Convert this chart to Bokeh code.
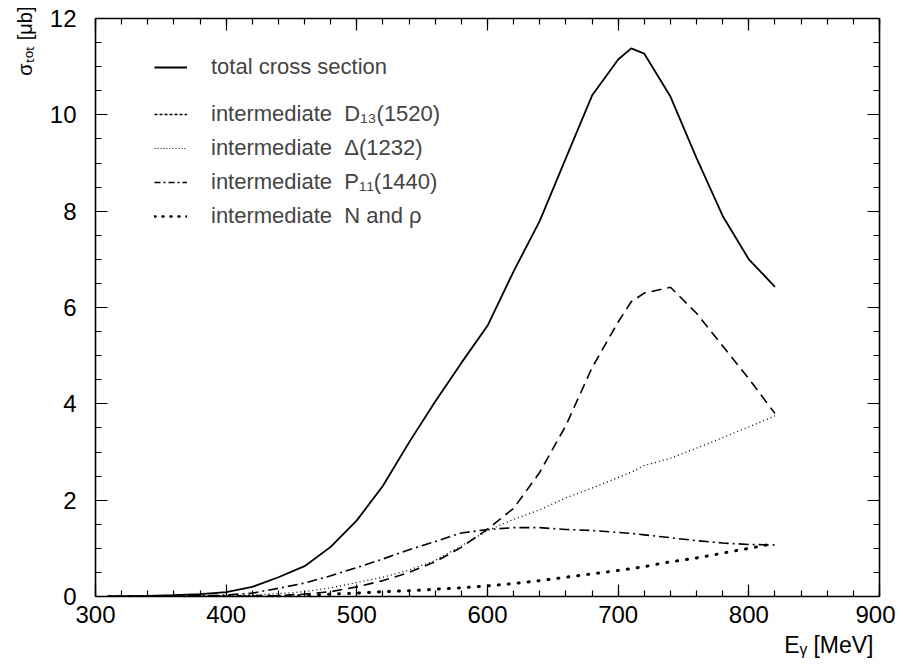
from bokeh.plotting import figure
from bokeh.models import (Range1d, SingleIntervalTicker, LinearAxis, Legend, LegendItem,
                          ColumnDataSource, Title)
from bokeh.embed import file_html
from bokeh.resources import INLINE

# ---- data ----
energy = [310, 320, 340, 360, 380, 400, 420, 440, 460, 480, 500, 520, 540, 560, 580,
          600, 620, 640, 660, 680, 700, 710, 720, 740, 760, 780, 800, 820]
sigma_total = [0.0, 0.005, 0.015, 0.03, 0.05, 0.09, 0.2, 0.4, 0.63, 1.03, 1.58, 2.3, 3.2, 4.05, 4.85,
               5.62, 6.75, 7.8, 9.1, 10.4, 11.15, 11.38, 11.27, 10.38, 9.1, 7.9, 7.0, 6.43]
sigma_d13 = [0.0, 0.0, 0.0, 0.0, 0.0, 0.0, 0.01, 0.02, 0.05, 0.1, 0.2, 0.33, 0.5, 0.72, 1.02,
             1.4, 1.83, 2.58, 3.55, 4.75, 5.7, 6.12, 6.3, 6.42, 5.88, 5.2, 4.52, 3.8]
sigma_delta = [0.0, 0.0, 0.0, 0.002, 0.005, 0.01, 0.03, 0.06, 0.1, 0.18, 0.29, 0.4, 0.55, 0.75, 1.05,
               1.37, 1.6, 1.8, 2.05, 2.25, 2.47, 2.58, 2.72, 2.87, 3.08, 3.3, 3.52, 3.75]
sigma_p11 = [0.0, 0.0, 0.005, 0.01, 0.015, 0.03, 0.07, 0.17, 0.28, 0.43, 0.6, 0.78, 0.97, 1.14, 1.32,
             1.39, 1.43, 1.43, 1.39, 1.37, 1.33, 1.31, 1.28, 1.22, 1.16, 1.11, 1.08, 1.07]
sigma_nrho = [0.0, 0.0, 0.0, 0.0, 0.0, 0.0, 0.005, 0.01, 0.02, 0.05, 0.07, 0.1, 0.12, 0.15, 0.18,
              0.22, 0.27, 0.33, 0.4, 0.47, 0.54, 0.58, 0.62, 0.72, 0.8, 0.9, 1.0, 1.1]

legend_labels = ["total cross section",
                 "intermediate\u00a0\u00a0D\u2081\u2083(1520)",
                 "intermediate\u00a0\u00a0\u0394(1232)",
                 "intermediate\u00a0\u00a0P\u2081\u2081(1440)",
                 "intermediate\u00a0\u00a0N and \u03c1"]
x_title = "E\u1d67 [MeV]"
y_title = "\u03c3\u209c\u2092\u209c [\u03bcb]"

FONT = "Liberation Sans"

p = figure(width=895, height=668, output_backend="svg", toolbar_location=None,
           x_range=Range1d(300, 900), y_range=Range1d(0, 12),
           min_border_left=95, min_border_right=16, min_border_top=18, min_border_bottom=72,
           x_axis_location=None, y_axis_location=None)
p.grid.visible = False
p.outline_line_color = None
p.background_fill_color = "white"
p.border_fill_color = "white"

def style_axis(ax, labels=True):
    ax.axis_line_width = 1.6
    ax.axis_line_color = "black"
    ax.major_tick_in = 12
    ax.major_tick_out = 0
    ax.minor_tick_in = 6
    ax.minor_tick_out = 0
    ax.major_tick_line_color = "black"
    ax.minor_tick_line_color = "black"
    ax.major_tick_line_width = 1.2
    ax.minor_tick_line_width = 1.2
    if labels:
        ax.major_label_text_font = FONT
        ax.major_label_text_font_size = "24px"
        ax.major_label_text_color = "black"
    else:
        ax.major_label_text_font_size = "0px"
        ax.major_label_text_alpha = 0

xb = LinearAxis(ticker=SingleIntervalTicker(interval=100, num_minor_ticks=5))
style_axis(xb)
xb.major_label_standoff = 9
p.add_layout(xb, "below")
xt = LinearAxis(ticker=SingleIntervalTicker(interval=100, num_minor_ticks=5))
style_axis(xt, labels=False)
p.add_layout(xt, "above")
yl = LinearAxis(ticker=SingleIntervalTicker(interval=2, num_minor_ticks=4))
style_axis(yl)
yl.major_label_standoff = 19
p.add_layout(yl, "left")
yr = LinearAxis(ticker=SingleIntervalTicker(interval=2, num_minor_ticks=4))
style_axis(yr, labels=False)
p.add_layout(yr, "right")

# axis titles placed at the axis ends
p.add_layout(Title(text=x_title, align="right", offset=6, standoff=8,
                   text_font=FONT, text_font_size="23px", text_font_style="normal",
                   text_color="black"), "below")
p.add_layout(Title(text=y_title, align="right", offset=-12, standoff=22,
                   text_font=FONT, text_font_size="20px", text_font_style="normal",
                   text_color="black"), "left")

src = ColumnDataSource(dict(e=energy, tot=sigma_total, d13=sigma_d13, dl=sigma_delta,
                            p11=sigma_p11, nr=sigma_nrho))

p.line("e", "tot", source=src, line_color="black", line_width=1.8)
p.line("e", "d13", source=src, line_color="black", line_width=1.6, line_dash="10 6")
p.line("e", "dl", source=src, line_color="black", line_width=1.3, line_dash="1 3")
p.line("e", "p11", source=src, line_color="black", line_width=1.6, line_dash="10 4 2 4")
p.line("e", "nr", source=src, line_color="black", line_width=3, line_dash="1 9", line_cap="round")

# legend sample renderers (styles as drawn in the reference legend; hidden in the plot)
lg0 = p.line("e", "tot", source=src, line_color="black", line_width=1.8, visible=False)
lg1 = p.line("e", "d13", source=src, line_color="black", line_width=1.3, line_dash="3 2", visible=False)
lg2 = p.line("e", "dl", source=src, line_color="black", line_width=1.2, line_dash="1 2", visible=False)
lg3 = p.line("e", "p11", source=src, line_color="black", line_width=1.6, line_dash="6 3 2 3", visible=False)
lg4 = p.line("e", "nr", source=src, line_color="black", line_width=2.6, line_dash="1 7",
             line_cap="round", visible=False)

def make_legend(items, loc):
    lg = Legend(items=items, location=loc, padding=0, spacing=0, margin=0,
                glyph_width=33, glyph_height=34, label_height=34, label_standoff=24,
                label_text_font=FONT, label_text_font_size="22px",
                border_line_color=None, background_fill_alpha=0)
    p.add_layout(lg, "center")
    return lg

make_legend([LegendItem(label=legend_labels[0], renderers=[lg0])], (59, 512))
make_legend([LegendItem(label=legend_labels[1], renderers=[lg1]),
             LegendItem(label=legend_labels[2], renderers=[lg2]),
             LegendItem(label=legend_labels[3], renderers=[lg3]),
             LegendItem(label=legend_labels[4], renderers=[lg4])], (59, 363))

open("out.html", "w").write(file_html(p, INLINE))
